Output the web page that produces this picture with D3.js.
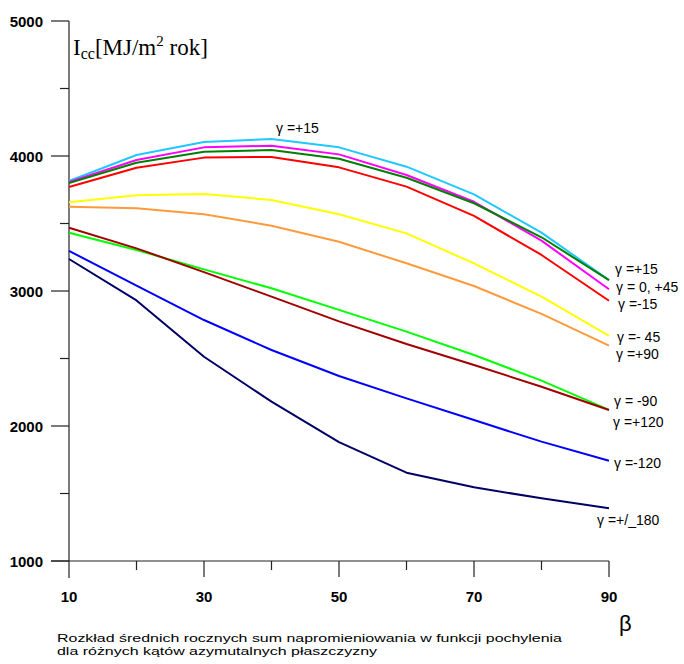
<!DOCTYPE html>
<html><head><meta charset="utf-8">
<script src="https://cdn.jsdelivr.net/npm/d3@7"></script>
<style>body{margin:0;background:#fff}svg{display:block}</style>
</head><body>
<script>
const betas = [10,20,30,40,50,60,70,80,90];
const xTicks = [10,30,50,70,90];
const yTicks = [1000,2000,3000,4000,5000];
const sCyan    = [3815,4007,4104,4126,4064,3921,3716,3432,3081];
const sMagenta = [3807,3970,4064,4076,4012,3859,3661,3373,3013];
const sGreen   = [3800,3950,4032,4044,3980,3839,3650,3398,3081];
const sRed     = [3770,3913,3988,3993,3916,3773,3556,3267,2928];
const sYellow  = [3657,3709,3719,3674,3568,3427,3205,2958,2667];
const sOrange  = [3624,3613,3568,3484,3365,3205,3037,2830,2595];
const sLime    = [3432,3304,3160,3020,2860,2699,2526,2336,2119];
const sDarkRed = [3469,3316,3140,2958,2775,2607,2452,2291,2119];
const sBlue    = [3297,3040,2785,2563,2370,2205,2044,1884,1743];
const sNavy    = [3237,2930,2513,2180,1880,1654,1546,1464,1390];
const series = [
  {v:sOrange, c:"#ff9a3c"},
  {v:sYellow, c:"#ffff00"},
  {v:sLime, c:"#00ff00"},
  {v:sDarkRed, c:"#a00000"},
  {v:sBlue, c:"#0000ff"},
  {v:sNavy, c:"#000066"},
  {v:sRed, c:"#ff0000"},
  {v:sCyan, c:"#20c8ff"},
  {v:sMagenta, c:"#ff00ff"},
  {v:sGreen, c:"#008000"}
];
const rightLabels = [
  {t:"γ =+15", x:615, y:274},
  {t:"γ = 0, +45", x:616, y:292},
  {t:"γ =-15", x:618, y:309},
  {t:"γ =- 45", x:617, y:342},
  {t:"γ =+90", x:616, y:359},
  {t:"γ = -90", x:614, y:406},
  {t:"γ =+120", x:613, y:427},
  {t:"γ =-120", x:614, y:468},
  {t:"γ =+/_180", x:597, y:525},
  {t:"γ =+15", x:276, y:133}
];
const captionLines = [
  "Rozkład średnich rocznych sum napromieniowania w funkcji pochylenia",
  "dla różnych kątów azymutalnych płaszczyzny"
];

const W=684,H=664;
const svg=d3.select("body").append("svg").attr("width",W).attr("height",H);
const x=d3.scaleLinear().domain([10,90]).range([69,609]);
const y=d3.scaleLinear().domain([1000,5000]).range([561,21]);

const ax="#222";
const sans="Liberation Sans, Arial, sans-serif";
// y axis
svg.append("line").attr("x1",69).attr("x2",69).attr("y1",y(5000)).attr("y2",578).attr("stroke",ax).attr("stroke-width",1.2);
d3.range(1000,5001,500).forEach(v=>{
  const major = v%1000===0;
  svg.append("line").attr("x1",major?51:60).attr("x2",69).attr("y1",y(v)).attr("y2",y(v)).attr("stroke",ax).attr("stroke-width",1.2);
});
svg.selectAll(".yl").data(yTicks).enter().append("text")
  .attr("x",43).attr("y",d=>y(d)+5.5).attr("text-anchor","end")
  .attr("font-family",sans).attr("font-weight","bold").attr("font-size",15).text(d=>d);
// x axis
svg.append("line").attr("x1",51).attr("x2",609).attr("y1",y(1000)).attr("y2",y(1000)).attr("stroke",ax).attr("stroke-width",1.2);
betas.forEach(b=>{
  const major = (b-10)%20===0;
  if(b===10) return;
  svg.append("line").attr("x1",x(b)).attr("x2",x(b)).attr("y1",y(1000)).attr("y2",y(1000)+(major?16:9)).attr("stroke",ax).attr("stroke-width",1.2);
});
svg.selectAll(".xl").data(xTicks).enter().append("text")
  .attr("x",d=>x(d)).attr("y",602).attr("text-anchor","middle")
  .attr("font-family",sans).attr("font-weight","bold").attr("font-size",15).text(d=>d);

// lines
const line=d3.line().x((d,i)=>x(betas[i])).y(d=>y(d));
series.forEach(s=>{
  svg.append("path").attr("d",line(s.v)).attr("fill","none").attr("stroke",s.c).attr("stroke-width",2).attr("stroke-linejoin","round");
});

// right labels
svg.selectAll(".rl").data(rightLabels).enter().append("text")
  .attr("x",d=>d.x).attr("y",d=>d.y)
  .attr("font-family",sans).attr("font-size",14).text(d=>d.t);

// y title
const yt=svg.append("text").attr("x",73).attr("y",55).attr("font-family","Liberation Serif, Times New Roman, serif").attr("font-size",23);
yt.append("tspan").text("I");
yt.append("tspan").attr("font-size",16).attr("dy",4).text("cc");
yt.append("tspan").attr("dy",-4).text("[MJ/m");
yt.append("tspan").attr("font-size",15).attr("dy",-9).text("2");
yt.append("tspan").attr("dy",9).text(" rok]");

// beta
svg.append("text").attr("x",619).attr("y",631).attr("font-family",sans).attr("font-size",22).text("β");

// caption
const capW=[505,320];
captionLines.forEach((t,i)=>{
  svg.append("text").attr("x",57).attr("y",642+i*13)
    .attr("font-family",sans).attr("font-size",11.5)
    .attr("textLength",capW[i]).attr("lengthAdjust","spacingAndGlyphs").text(t);
});
</script>
</body></html>
